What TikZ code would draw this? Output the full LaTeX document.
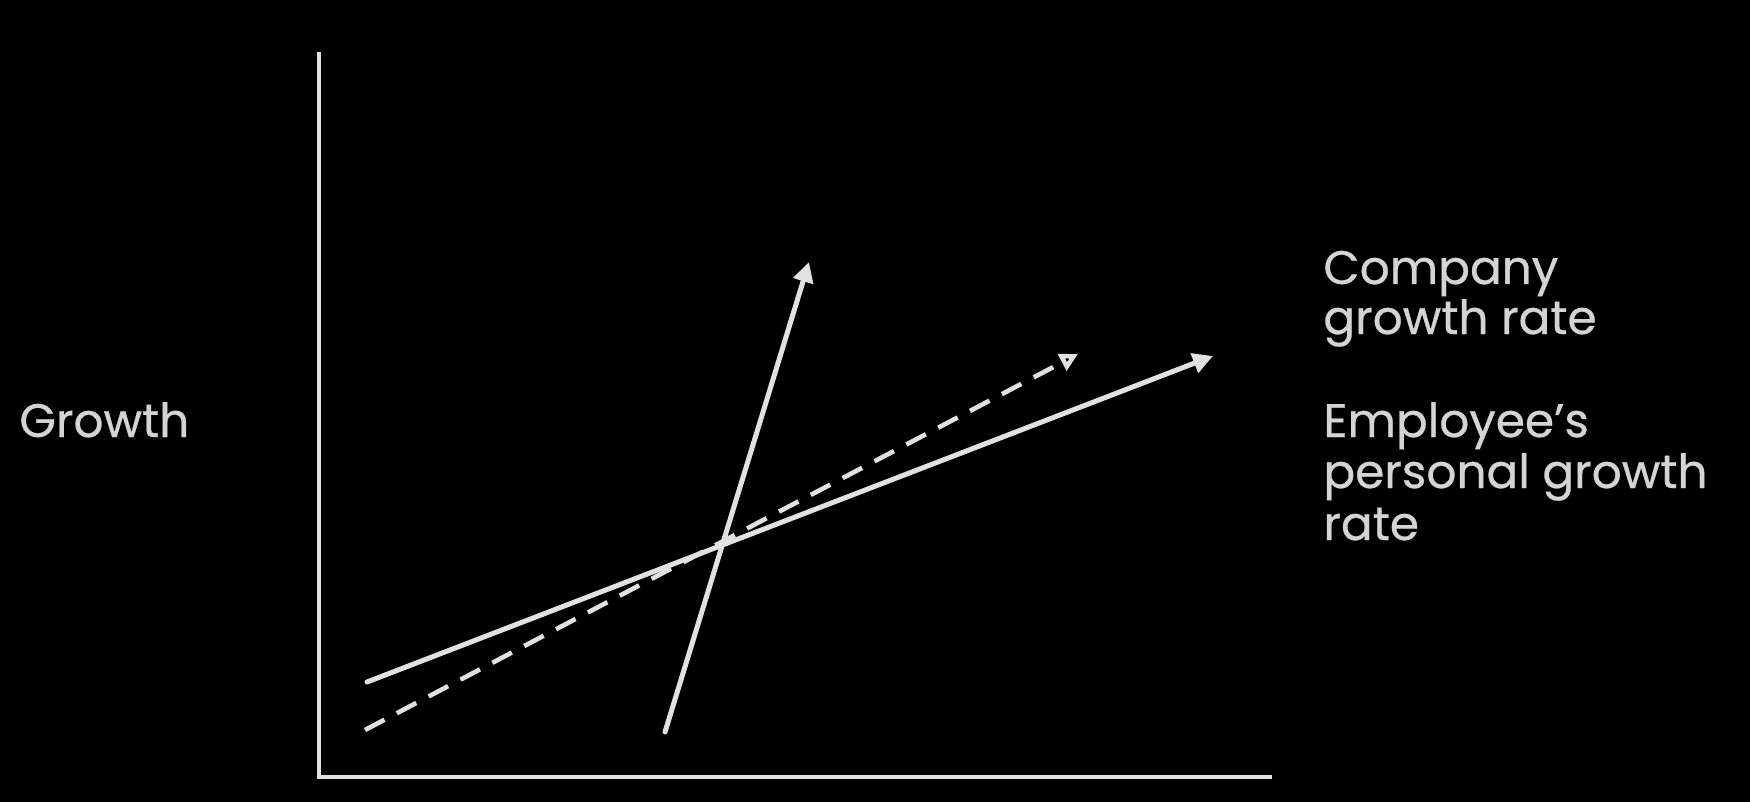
\documentclass[tikz,border=0pt]{standalone}
\usepackage{fontspec}
\setmainfont{Poppins}[UprightFeatures={FakeBold=0.6}]
\usetikzlibrary{arrows.meta}
\definecolor{ink}{RGB}{225,225,225}
\definecolor{txt}{RGB}{212,212,212}
\begin{document}
\begin{tikzpicture}[x=0.5pt,y=-0.5pt,
  axisline/.style={draw=ink,line width=2.2pt},
  trend/.style={draw=ink,line width=2.5pt,line cap=round,-{Triangle[length=10pt,width=10pt]}},
  dashtrend/.style={draw=ink,line width=2.3pt,dash pattern=on 11pt off 7pt,-{Triangle[open,length=9pt,width=9pt]}},
  lbl/.style={text=txt,inner sep=0pt,align=left,font=\fontsize{23.5}{25.5}\selectfont}]
\fill[black] (0,0) rectangle (1750,802);
\useasboundingbox (0,0) rectangle (1750,802);
% axes
\coordinate (ytop) at (319,52);
\coordinate (orig) at (319,777);
\coordinate (xend) at (1272,777);
\draw[axisline] (ytop) -- (orig) -- (xend);
% lines
\coordinate (cs) at (367,682);
\coordinate (ce) at (1213,356);
\coordinate (ds) at (365,730);
\coordinate (de) at (1078,354);
\coordinate (ss) at (665,732);
\coordinate (se) at (809,262);
\draw[dashtrend] (ds) -- (de);
\draw[trend] (cs) -- (ce);
\draw[trend] (ss) -- (se);
% labels
\node[lbl,anchor=base west] (growth) at (19,437) {Growth};
\node[lbl,anchor=base west] (comp) at (1323,284) {Company};
\node[lbl,anchor=base west] (comp2) at (1323,334) {growth rate};
\node[lbl,anchor=base west] (emp) at (1323,437) {Employee’s};
\node[lbl,anchor=base west] (emp2) at (1323,488) {personal growth};
\node[lbl,anchor=base west] (emp3) at (1323,540) {rate};
\end{tikzpicture}
\end{document}
